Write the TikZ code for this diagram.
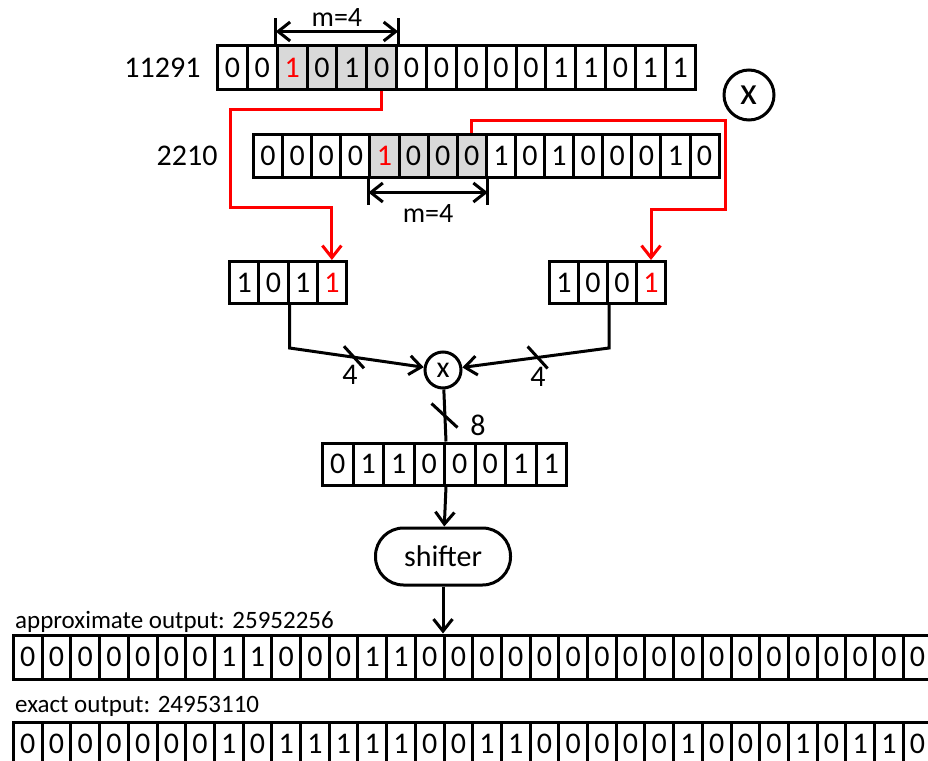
\documentclass[tikz,border=0pt]{standalone}
\usepackage{fontspec}
\setmainfont{Carlito}
\usetikzlibrary{positioning,arrows.meta,calc}

\begin{document}
\begin{tikzpicture}[
        x=1pt, y=-1pt,
        font=\fontsize{30}{35}\selectfont,
        >={Straight Barb[length=12pt,width=19pt]},
        bit/.style={draw, line width=3pt, inner sep=0pt, anchor=west},
        plain/.style={},
        lit/.style={fill=black!15},
        litred/.style={fill=black!15, text=red},
        redbit/.style={text=red},
        wire/.style={line width=3pt},
        redwire/.style={draw=red, line width=3pt, ->},
        tick/.style={line width=3pt},
        small/.style={font=\fontsize{25}{29}\selectfont, inner sep=0pt, anchor=base west}
    ]
    \useasboundingbox (0,0) rectangle (928,760);
    \clip (0,0) rectangle (928,760);

    % Operand 1 (11291)
    \foreach \b/\s [count=\i] in {0/plain,0/plain,1/litred,0/lit,1/lit,0/lit,0/plain,0/plain,
                                  0/plain,0/plain,0/plain,1/plain,1/plain,0/plain,1/plain,1/plain}
        \node[bit, \s, minimum width=29.85pt, minimum height=43pt] (a-\i) at ({216+(\i-1)*29.85}, 67.5) {\b};
    \node[left=12pt of a-1] (na) {11291};

    % Operand 2 (2210)
    \foreach \b/\s [count=\i] in {0/plain,0/plain,0/plain,0/plain,1/litred,0/lit,0/lit,0/lit,
                                  1/plain,0/plain,1/plain,0/plain,0/plain,0/plain,1/plain,0/plain}
        \node[bit, \s, minimum width=29.1pt, minimum height=43pt] (b-\i) at ({252+(\i-1)*29.1}, 155.5) {\b};
    \node[left=31pt of b-1] (nb) {2210};

    % Operation
    \node[draw, circle, line width=3pt, minimum size=50pt, inner sep=0pt, font=\fontsize{39}{41}\selectfont] (op) at (749,95) {x};

    % Truncated operands
    \foreach \b/\s [count=\i] in {1/plain,0/plain,1/plain,1/redbit}
        \node[bit, \s, minimum width=29.25pt, minimum height=42pt] (c-\i) at ({228+(\i-1)*29.25}, 282.5) {\b};
    \foreach \b/\s [count=\i] in {1/plain,0/plain,0/plain,1/redbit}
        \node[bit, \s, minimum width=29pt, minimum height=42pt] (d-\i) at ({548+(\i-1)*29}, 282.5) {\b};

    % Multiplier, product, shifter
    \node[draw, circle, line width=3pt, minimum size=36pt, inner sep=0pt] (mult) at (443,370) {x};
    \foreach \b [count=\i] in {0,1,1,0,0,0,1,1}
        \node[bit, minimum width=30.5pt, minimum height=42pt] (e-\i) at ({321+(\i-1)*30.5}, 464) {\b};
    \node[draw, line width=3pt, rounded corners=28pt, minimum width=135pt, minimum height=57pt] (shifter) at (443,556.5) {shifter};

    % Outputs
    \node[small] (fa) at (15,628) {approximate output: 25952256};
    \foreach \b [count=\i] in {0,0,0,0,0,0,0,1,1,0,0,0,1,1,0,0,0,0,0,0,0,0,0,0,0,0,0,0,0,0,0,0}
        \node[bit, minimum width=28.7pt, minimum height=44pt] (f-\i) at ({12+(\i-1)*28.7}, 657) {\b};
    \node[small] (ga) at (15,712) {exact output: 24953110};
    \foreach \b [count=\i] in {0,0,0,0,0,0,0,1,0,1,1,1,1,1,0,0,1,1,0,0,0,0,0,1,0,0,0,1,0,1,1,0}
        \node[bit, minimum width=28.7pt, minimum height=44pt] (g-\i) at ({12+(\i-1)*28.7}, 744) {\b};

    % Width marks
    \draw[tick] (a-3.north west) -- ++(0,-26) coordinate (ml);
    \draw[tick] (a-6.north east) -- ++(0,-26) coordinate (mr);
    \draw[tick, <->] ($(ml)+(0,13)$) -- ($(mr)+(0,13)$) node[midway, above, font=\fontsize{28}{31}\selectfont] (m1) {m=4};
    \draw[tick] (b-5.south west) -- ++(0,26) coordinate (nl);
    \draw[tick] (b-8.south east) -- ++(0,26) coordinate (nr);
    \draw[tick, <->] ($(nl)+(0,-12)$) -- ($(nr)+(0,-12)$) node[midway, below=7pt, font=\fontsize{28}{31}\selectfont] (m2) {m=4};

    % Red selections
    \draw[redwire] (a-6.south) -- ++(0,19) -| (230,207) -| (c-4.north);
    \draw[redwire] (b-8.north) |- (725,120) |- ([yshift=51pt]d-4.north) -- (d-4.north);

    % Arrows
    \draw[wire, ->] (c-2.south east) -- ++(0,43) coordinate (cbend) -- (mult);
    \draw[wire, ->] (d-2.south east) -- ++(0,43) coordinate (dbend) -- (mult);
    \draw[tick] ($(cbend)!0.42!(mult)$) +(-10,-11) -- +(10,11);
    \draw[tick] ($(dbend)!0.43!(mult)$) +(-10,-11) -- +(10,11);
    \node (w1) at (350,375) {4};
    \node (w2) at (538,377) {4};
    \draw[wire] (mult) -- (e-4.north east);
    \draw[tick] ($(mult.south)!0.5!(e-4.north east)$) +(-13,-12) -- +(13,12);
    \node (w3) at (478,425) {8};
    \draw[wire, ->] (e-4.south east) -- (shifter);
    \draw[wire, ->] (shifter) -- (shifter |- f-1.north);

\end{tikzpicture}
\end{document}
